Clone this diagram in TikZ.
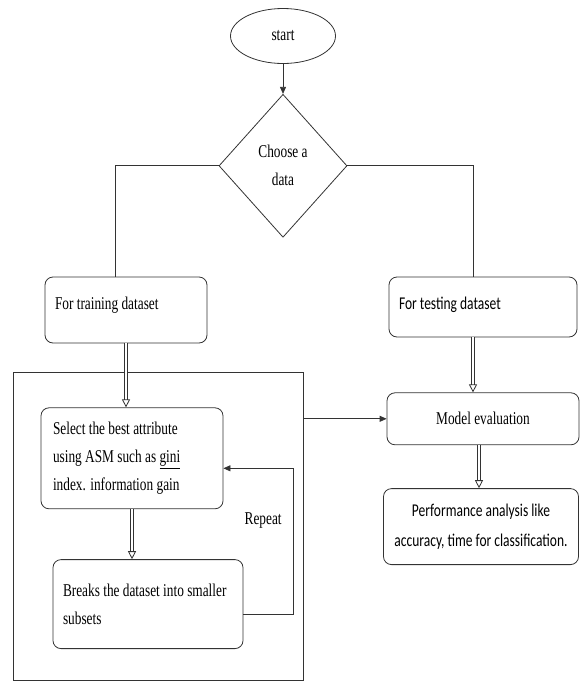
\documentclass[tikz,border=0pt]{standalone}
\usepackage{fontspec}
\setmainfont[FakeStretch=0.74]{Liberation Serif}
\newfontfamily\calibri[FakeStretch=0.75]{Carlito}
\usetikzlibrary{positioning,shapes.geometric,arrows.meta}

\begin{document}
\begin{tikzpicture}[x=1pt, y=-1pt, line width=0.8pt, draw=black!80,
    font=\fontsize{18}{28}\selectfont,
    box/.style={draw, rounded corners=8pt, inner sep=0pt},
    flow/.style={-{Triangle[length=7pt, width=6pt]}},
    hollow/.style={double, double distance=2.4pt,
      -{Triangle[open, length=8pt, width=8pt]}}]
  \useasboundingbox (0,0) rectangle (579,683);

  \node (start) [draw, ellipse, minimum width=105pt, minimum height=55pt, inner sep=0pt] at (283,36) {start};
  \node (choose) [draw, diamond, minimum width=128pt, minimum height=143pt, inner sep=0pt, align=center, below=30pt of start] {Choose a\\data};

  \node (train) [box, minimum width=162pt, minimum height=66pt, text width=142pt, align=flush left] at (126,310) {\raisebox{14pt}{For training dataset}};
  \node (test) [box, minimum width=188pt, minimum height=60pt, text width=168pt, align=flush left, font=\calibri\fontsize{18}{28}\selectfont] at (483,307) {\raisebox{8pt}{For testing dataset}};

  \node (phase) [draw, minimum width=290pt, minimum height=308pt, inner sep=0pt] at (158,526) {};
  \node (select) [box, minimum width=182pt, minimum height=101pt, text width=158pt, align=flush left, below=64pt of train, xshift=6pt] {Select the best attribute\\using ASM such as \underline{gini}\\index. information gain};
  \node (breaks) [box, minimum width=190pt, minimum height=89pt, text width=170pt, align=flush left, below=50pt of select, xshift=16pt] {Breaks the dataset into smaller\\subsets};

  \node (eval) [box, minimum width=192pt, minimum height=52pt, below=55pt of test] {Model evaluation};
  \node (perf) [box, minimum width=195pt, minimum height=76pt, align=center, font=\calibri\fontsize{18}{30}\selectfont, below=43pt of eval, xshift=-2pt] {Performance analysis like\\accuracy, time for classification.};

  \draw[flow] (start) -- (choose);
  \draw (choose.west) -| ([xshift=-11pt]train.north);
  \draw (choose.east) -| ([xshift=-10pt]test.north);
  \draw[hollow] (train.south) -- (train.south |- select.north);
  \draw[hollow] (select.south) -- (select.south |- breaks.north);
  \draw[hollow] ([xshift=-10pt]test.south) -- ([xshift=-10pt]test.south |- eval.north);
  \draw[hollow] ([xshift=-4pt]eval.south) -- ([xshift=-4pt]eval.south |- perf.north);
  \draw[flow] ([yshift=-10pt]breaks.east) -- ++(50,0) |- node[pos=0.32, left=8pt] (repeat) {Repeat} ([yshift=-10pt]select.east);
  \draw[flow] (phase.east |- eval.west) -- (eval.west);
\end{tikzpicture}
\end{document}
